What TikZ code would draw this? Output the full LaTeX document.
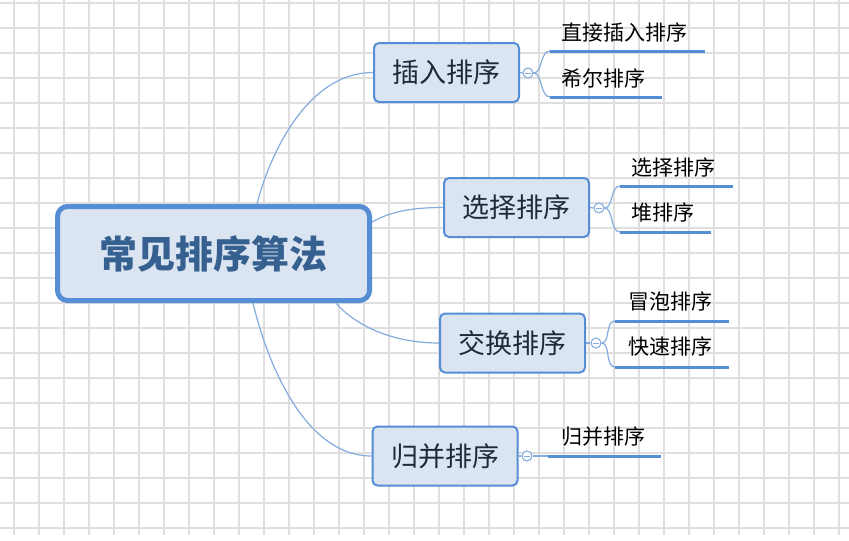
\documentclass[tikz,border=0pt]{standalone}
\usepackage{fontspec}
\newfontfamily\cjk{Noto Sans CJK SC}
\definecolor{gridgray}{HTML}{DFDFDF}
\definecolor{nodeblue}{HTML}{558ED5}
\definecolor{nodefill}{HTML}{DBE5F1}
\definecolor{linkblue}{HTML}{84ACDE}
\definecolor{maintext}{HTML}{35608F}
\definecolor{branchtext}{HTML}{1C2A3A}
\pgfdeclarelayer{gridlayer}
\pgfdeclarelayer{linklayer}
\pgfsetlayers{gridlayer,linklayer,main}
\tikzset{
  mainbox/.style={draw=nodeblue, fill=nodefill, line width=5pt, rounded corners=10pt,
    minimum width=312pt, minimum height=94pt, inner sep=0pt,
    font=\cjk\bfseries\fontsize{38}{45}\selectfont, text=maintext},
  branchbox/.style={draw=nodeblue, fill=nodefill, line width=2pt, rounded corners=5pt,
    minimum width=145pt, minimum height=59pt, inner sep=0pt,
    font=\cjk\fontsize{27}{32}\selectfont, text=branchtext},
  leaftext/.style={anchor=west, inner sep=0pt, font=\cjk\fontsize{21}{25}\selectfont, text=black},
  link/.style={draw=linkblue, line width=1.2pt},
  uline/.style={draw=nodeblue, line width=3pt},
  marker/.style={circle, draw=linkblue, fill=white, line width=1.1pt, minimum size=10pt, inner sep=0pt},
  gridline/.style={draw=gridgray, line width=1.8pt}
}
\begin{document}
\begin{tikzpicture}[x=1pt,y=-1pt]
\useasboundingbox (0,0) rectangle (849,541);
\begin{pgfonlayer}{gridlayer}
  \fill[white] (0,0) rectangle (849,541);
  \foreach \x in {14,39,...,839} \draw[gridline] (\x,0) -- (\x,535);
  \foreach \y in {3,28,...,528} \draw[gridline] (0,\y) -- (849,\y);
\end{pgfonlayer}

% nodes
\node[mainbox] (central) at (213.5,253.5) {常见排序算法};
\node[branchbox] (ins) at (446.5,72.5) {插入排序};
\node[branchbox] (sel) at (516.5,207.5) {选择排序};
\node[branchbox] (swp) at (512.5,343) {交换排序};
\node[branchbox] (mrg) at (445,456) {归并排序};

% markers
\node[marker] (m1) at (528,73) {};
\node[marker] (m2) at (599,208) {};
\node[marker] (m3) at (596,343) {};
\node[marker] (m4) at (527,456) {};
\foreach \m in {m1,m2,m3,m4}
  \draw[linkblue, line width=1pt] ([xshift=-2.8pt]\m.center) -- ([xshift=2.8pt]\m.center);

% leaves
\node[leaftext] (l1a) at (561,32) {直接插入排序};
\node[leaftext] (l1b) at (561,78) {希尔排序};
\node[leaftext] (l2a) at (631,167) {选择排序};
\node[leaftext] (l2b) at (631,212) {堆排序};
\node[leaftext] (l3a) at (628,301) {冒泡排序};
\node[leaftext] (l3b) at (628,347) {快速排序};
\node[leaftext] (l4) at (561,437) {归并排序};

% underline end points
\coordinate (u1as) at (550,51);  \coordinate (u1ae) at (705,51);
\coordinate (u1bs) at (550,97);  \coordinate (u1be) at (662,97);
\coordinate (u2as) at (620,186); \coordinate (u2ae) at (733,186);
\coordinate (u2bs) at (620,232); \coordinate (u2be) at (711,232);
\coordinate (u3as) at (615,321); \coordinate (u3ae) at (729,321);
\coordinate (u3bs) at (615,367); \coordinate (u3be) at (729,367);
\coordinate (u4s) at (548,456);  \coordinate (u4e) at (661,456);

\draw[uline] (u1as) -- (u1ae);
\draw[uline] (u1bs) -- (u1be);
\draw[uline] (u2as) -- (u2ae);
\draw[uline] (u2bs) -- (u2be);
\draw[uline] (u3as) -- (u3ae);
\draw[uline] (u3bs) -- (u3be);
\draw[uline] (u4s) -- (u4e);

\begin{pgfonlayer}{linklayer}
  % central to branches
  \draw[link] ([xshift=43.5pt]central.north) .. controls (268,160) and (305,72.5) .. (ins.west);
  \draw[link] ([yshift=31.5pt]central.east) .. controls (390,212) and (410,207.5) .. (sel.west);
  \draw[link] ([xshift=122.5pt]central.south) .. controls (350,320) and (385,343) .. (swp.west);
  \draw[link] ([xshift=39.5pt]central.south) .. controls (264,350) and (300,456) .. (mrg.west);
  % branch to marker
  \draw[link] (ins.east) -- (m1.west);
  \draw[link] (sel.east) -- (m2.west);
  \draw[link] (swp.east) -- (m3.west);
  \draw[link] (mrg.east) -- (m4.west);
  % brackets
  \draw[link] (m1.east) .. controls +(9,0) and +(-10,0) .. (u1as);
  \draw[link] (m1.east) .. controls +(9,0) and +(-10,0) .. (u1bs);
  \draw[link] (m2.east) .. controls +(9,0) and +(-10,0) .. (u2as);
  \draw[link] (m2.east) .. controls +(9,0) and +(-10,0) .. (u2bs);
  \draw[link] (m3.east) .. controls +(9,0) and +(-10,0) .. (u3as);
  \draw[link] (m3.east) .. controls +(9,0) and +(-10,0) .. (u3bs);
  \draw[link] (m4.east) -- (u4s);
\end{pgfonlayer}
\end{tikzpicture}
\end{document}
